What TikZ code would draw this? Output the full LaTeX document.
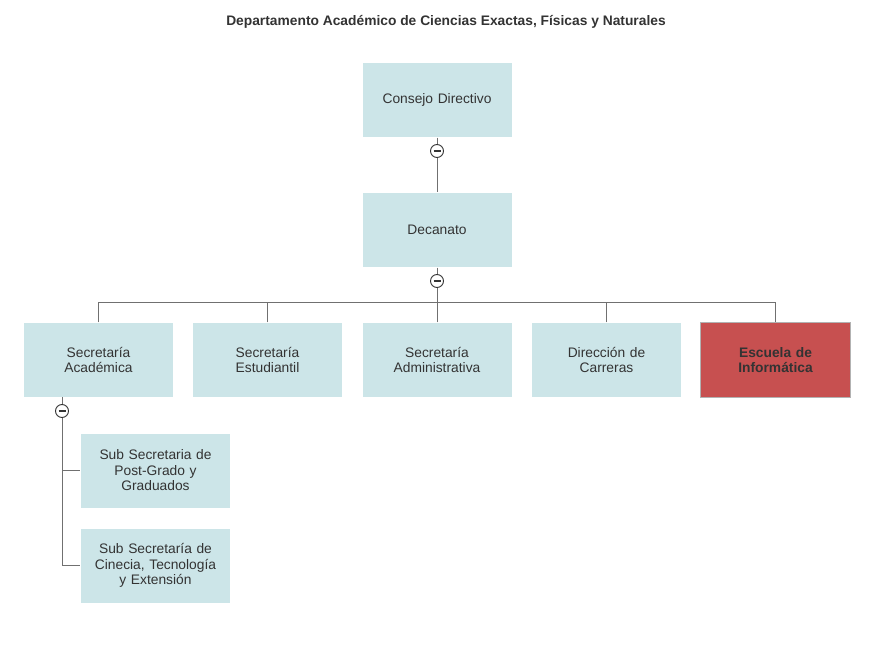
\documentclass[tikz,border=0pt]{standalone}
\usepackage{fontspec}
\setmainfont{Liberation Sans}
\usepackage{tikz}
\usepackage{xcolor}
\definecolor{unitblue}{HTML}{CCE5E8}
\definecolor{escred}{HTML}{C75050}
\definecolor{txtgray}{HTML}{333333}
\definecolor{linegray}{HTML}{707070}

\begin{document}
\begin{tikzpicture}[x=1pt, y=-1pt, font=\fontsize{13.8}{15.5}\selectfont, text=txtgray,
  unit/.style={fill=unitblue, draw=white, minimum width=150pt, minimum height=75pt,
               inner sep=2pt, text width=140pt, align=center},
  school/.style={unit, fill=escred, draw=black!30, font=\fontsize{13.8}{15.5}\selectfont\bfseries},
  toggle/.style={circle, draw=txtgray, line width=0.9pt, fill=white, minimum size=13pt, inner sep=0pt,
                 path picture={\draw[txtgray, line width=1.2pt] ([xshift=-3.5pt]path picture bounding box.center) -- ([xshift=3.5pt]path picture bounding box.center);}},
  link/.style={draw=linegray, line width=1pt},
]
\useasboundingbox (0,0) rectangle (896,666);
\node[font=\fontsize{13.8}{15.5}\selectfont\bfseries] (title) at (446,22)
      {Departamento Académico de Ciencias Exactas, Físicas y Naturales};
\node[unit]   (consejo) at (437,100)   {Consejo Directivo};
\node[unit]   (decanato) at (437,230)  {Decanato};
\node[unit]   (acad) at (98.5,360)    {Secretaría\\Académica};
\node[unit]   (estu) at (267.5,360)   {Secretaría\\Estudiantil};
\node[unit]   (admin) at (437,360)    {Secretaría\\Administrativa};
\node[unit]   (direc) at (606.5,360)  {Dirección de\\Carreras};
\node[school] (escuela) at (775.5,360) {Escuela de\\Informática};
\node[unit]   (posgr) at (155.5,470.5) {Sub Secretaria de\\Post-Grado y\\Graduados};
\node[unit]   (ciencia) at (155.5,565.5) {Sub Secretaría de\\Cinecia, Tecnología\\y Extensión};
% tree lines
\coordinate (bus) at (437,302);
\draw[link] (consejo.south) -- (decanato.north);
\draw[link] (decanato.south) -- (bus);
\foreach \u in {acad,estu,admin,direc,escuela}
  \draw[link] (\u.north) -- (\u.north |- bus);
\draw[link] (acad.north |- bus) -- (escuela.north |- bus);
\coordinate (acadfoot) at (62,397);
\draw[link] (acadfoot) -- (62,565.5) -- (ciencia.west);
\draw[link] (62,470.5) -- (posgr.west);
% collapse buttons
\node[toggle] (tg1) at (437,151) {};
\node[toggle] (tg2) at (437,281) {};
\node[toggle] (tg3) at (62,411) {};
\end{tikzpicture}
\end{document}
